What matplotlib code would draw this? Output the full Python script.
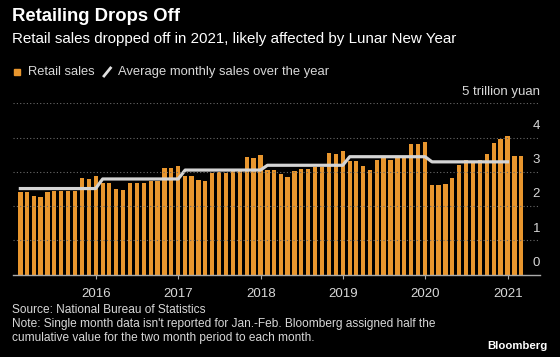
import pandas as pd
import matplotlib
matplotlib.use('Agg')
import matplotlib.pyplot as plt
from matplotlib.lines import Line2D
from matplotlib.patches import Rectangle

plt.rcParams['font.family'] = ['Liberation Sans', 'DejaVu Sans']

# Monthly retail sales, trillion yuan (Jan 2015 - Feb 2021)
sales_2015 = [2.41, 2.41, 2.28, 2.25, 2.42, 2.43, 2.43, 2.45, 2.45, 2.83, 2.80, 2.88]
sales_2016 = [2.66, 2.66, 2.50, 2.48, 2.66, 2.68, 2.68, 2.74, 2.74, 3.11, 3.11, 3.18]
sales_2017 = [2.89, 2.89, 2.77, 2.73, 2.96, 2.98, 2.96, 3.01, 3.03, 3.43, 3.40, 3.48]
sales_2018 = [3.05, 3.05, 2.93, 2.84, 3.03, 3.08, 3.08, 3.13, 3.13, 3.56, 3.53, 3.61]
sales_2019 = [3.32, 3.32, 3.17, 3.06, 3.33, 3.44, 3.33, 3.43, 3.44, 3.82, 3.82, 3.88]
sales_2020 = [2.60, 2.60, 2.64, 2.83, 3.20, 3.34, 3.29, 3.34, 3.52, 3.85, 3.95, 4.04]
sales_2021 = [3.47, 3.47]

# Average monthly sales for each full year
avg_years = [2015, 2016, 2017, 2018, 2019, 2020]
avg_values = [2.51, 2.79, 3.05, 3.19, 3.44, 3.29]

year_ticks = [2016, 2017, 2018, 2019, 2020, 2021]
y_ticks = [0, 1, 2, 3, 4, 5]
y_labels = ['0', '1', '2', '3', '4', '5 trillion yuan']

sales = sales_2015 + sales_2016 + sales_2017 + sales_2018 + sales_2019 + sales_2020 + sales_2021
months = pd.date_range('2015-01-31', periods=len(sales), freq='ME')
avg_line = [v for v in avg_values for _ in range(12)]

ORANGE = '#E8962E'
TEXT = '#d8d8d8'
W, H = 560, 357

fig = plt.figure(figsize=(W / 100, H / 100), dpi=100, facecolor='black')
ax = fig.add_axes([12.7 / W, 1 - 274.5 / H, (540 - 12.7) / W, (274.5 - 103.3) / H])
ax.set_facecolor('black')

ax.bar(months, sales, width=19, color=ORANGE, zorder=2)
ax.plot(months[:len(avg_line)], avg_line, color='#d4d4d4', lw=2.3, zorder=3)

ax.set_xlim(pd.Timestamp('2014-12-28'), pd.Timestamp('2021-05-24'))
ax.set_ylim(0, 5)

# dotted gridlines, labels sit above them on the right
for v, lab in zip(y_ticks, y_labels):
    if v > 0:
        ax.axhline(v, color='#6a6a6a', lw=0.8, linestyle=(0, (1, 2)), zorder=4)
    ax.annotate(lab, xy=(1.0, v), xycoords=ax.get_yaxis_transform(),
                xytext=(0, 4), textcoords='offset points',
                ha='right', va='bottom', color=TEXT, fontsize=9.5)
ax.set_yticks([])

ax.set_xticks([pd.Timestamp(f'{y}-01-01') for y in year_ticks])
ax.set_xticklabels([str(y) for y in year_ticks])
ax.tick_params(axis='x', colors='#aaaaaa', labelcolor=TEXT, labelsize=9.5,
               length=3, width=0.8, pad=7)

for s in ['top', 'left', 'right']:
    ax.spines[s].set_visible(False)
ax.spines['bottom'].set_color('#aaaaaa')
ax.spines['bottom'].set_linewidth(1.0)
ax.spines['bottom'].set_zorder(5)

# titles
fig.text(12.5 / W, 1 - 21 / H, 'Retailing Drops Off', color='white',
         fontsize=13.3, fontweight='bold', va='baseline')
fig.text(12.5 / W, 1 - 43 / H,
         'Retail sales dropped off in 2021, likely affected by Lunar New Year',
         color='white', fontsize=10.9, va='baseline')

# legend
ly = 1 - 72 / H
fig.patches.append(Rectangle((14.3 / W, ly - 2.8 / H), 5.6 / W, 5.6 / H,
                             transform=fig.transFigure, color=ORANGE))
fig.text(27.9 / W, ly, 'Retail sales', color=TEXT, fontsize=9.3, va='center')
fig.lines.append(Line2D([104 / W, 110.5 / W], [ly - 4 / H, ly + 4 / H],
                        transform=fig.transFigure, color='#e0e0e0', lw=2))
fig.text(118 / W, ly, 'Average monthly sales over the year', color=TEXT,
         fontsize=9.4, va='center')

# footer
fig.text(12.5 / W, 1 - 310 / H, 'Source: National Bureau of Statistics',
         color=TEXT, fontsize=8.6, va='center')
fig.text(12.5 / W, 1 - 324 / H,
         "Note: Single month data isn't reported for Jan.-Feb. Bloomberg assigned half the",
         color=TEXT, fontsize=8.6, va='center')
fig.text(12.5 / W, 1 - 338 / H,
         'cumulative value for the two month period to each month.',
         color=TEXT, fontsize=8.6, va='center')
fig.text(548 / W, 1 - 346 / H, 'Bloomberg', color='white', fontsize=8.2,
         fontweight='bold', ha='right', va='center')

fig.savefig('out.png', dpi=100, facecolor='black')
